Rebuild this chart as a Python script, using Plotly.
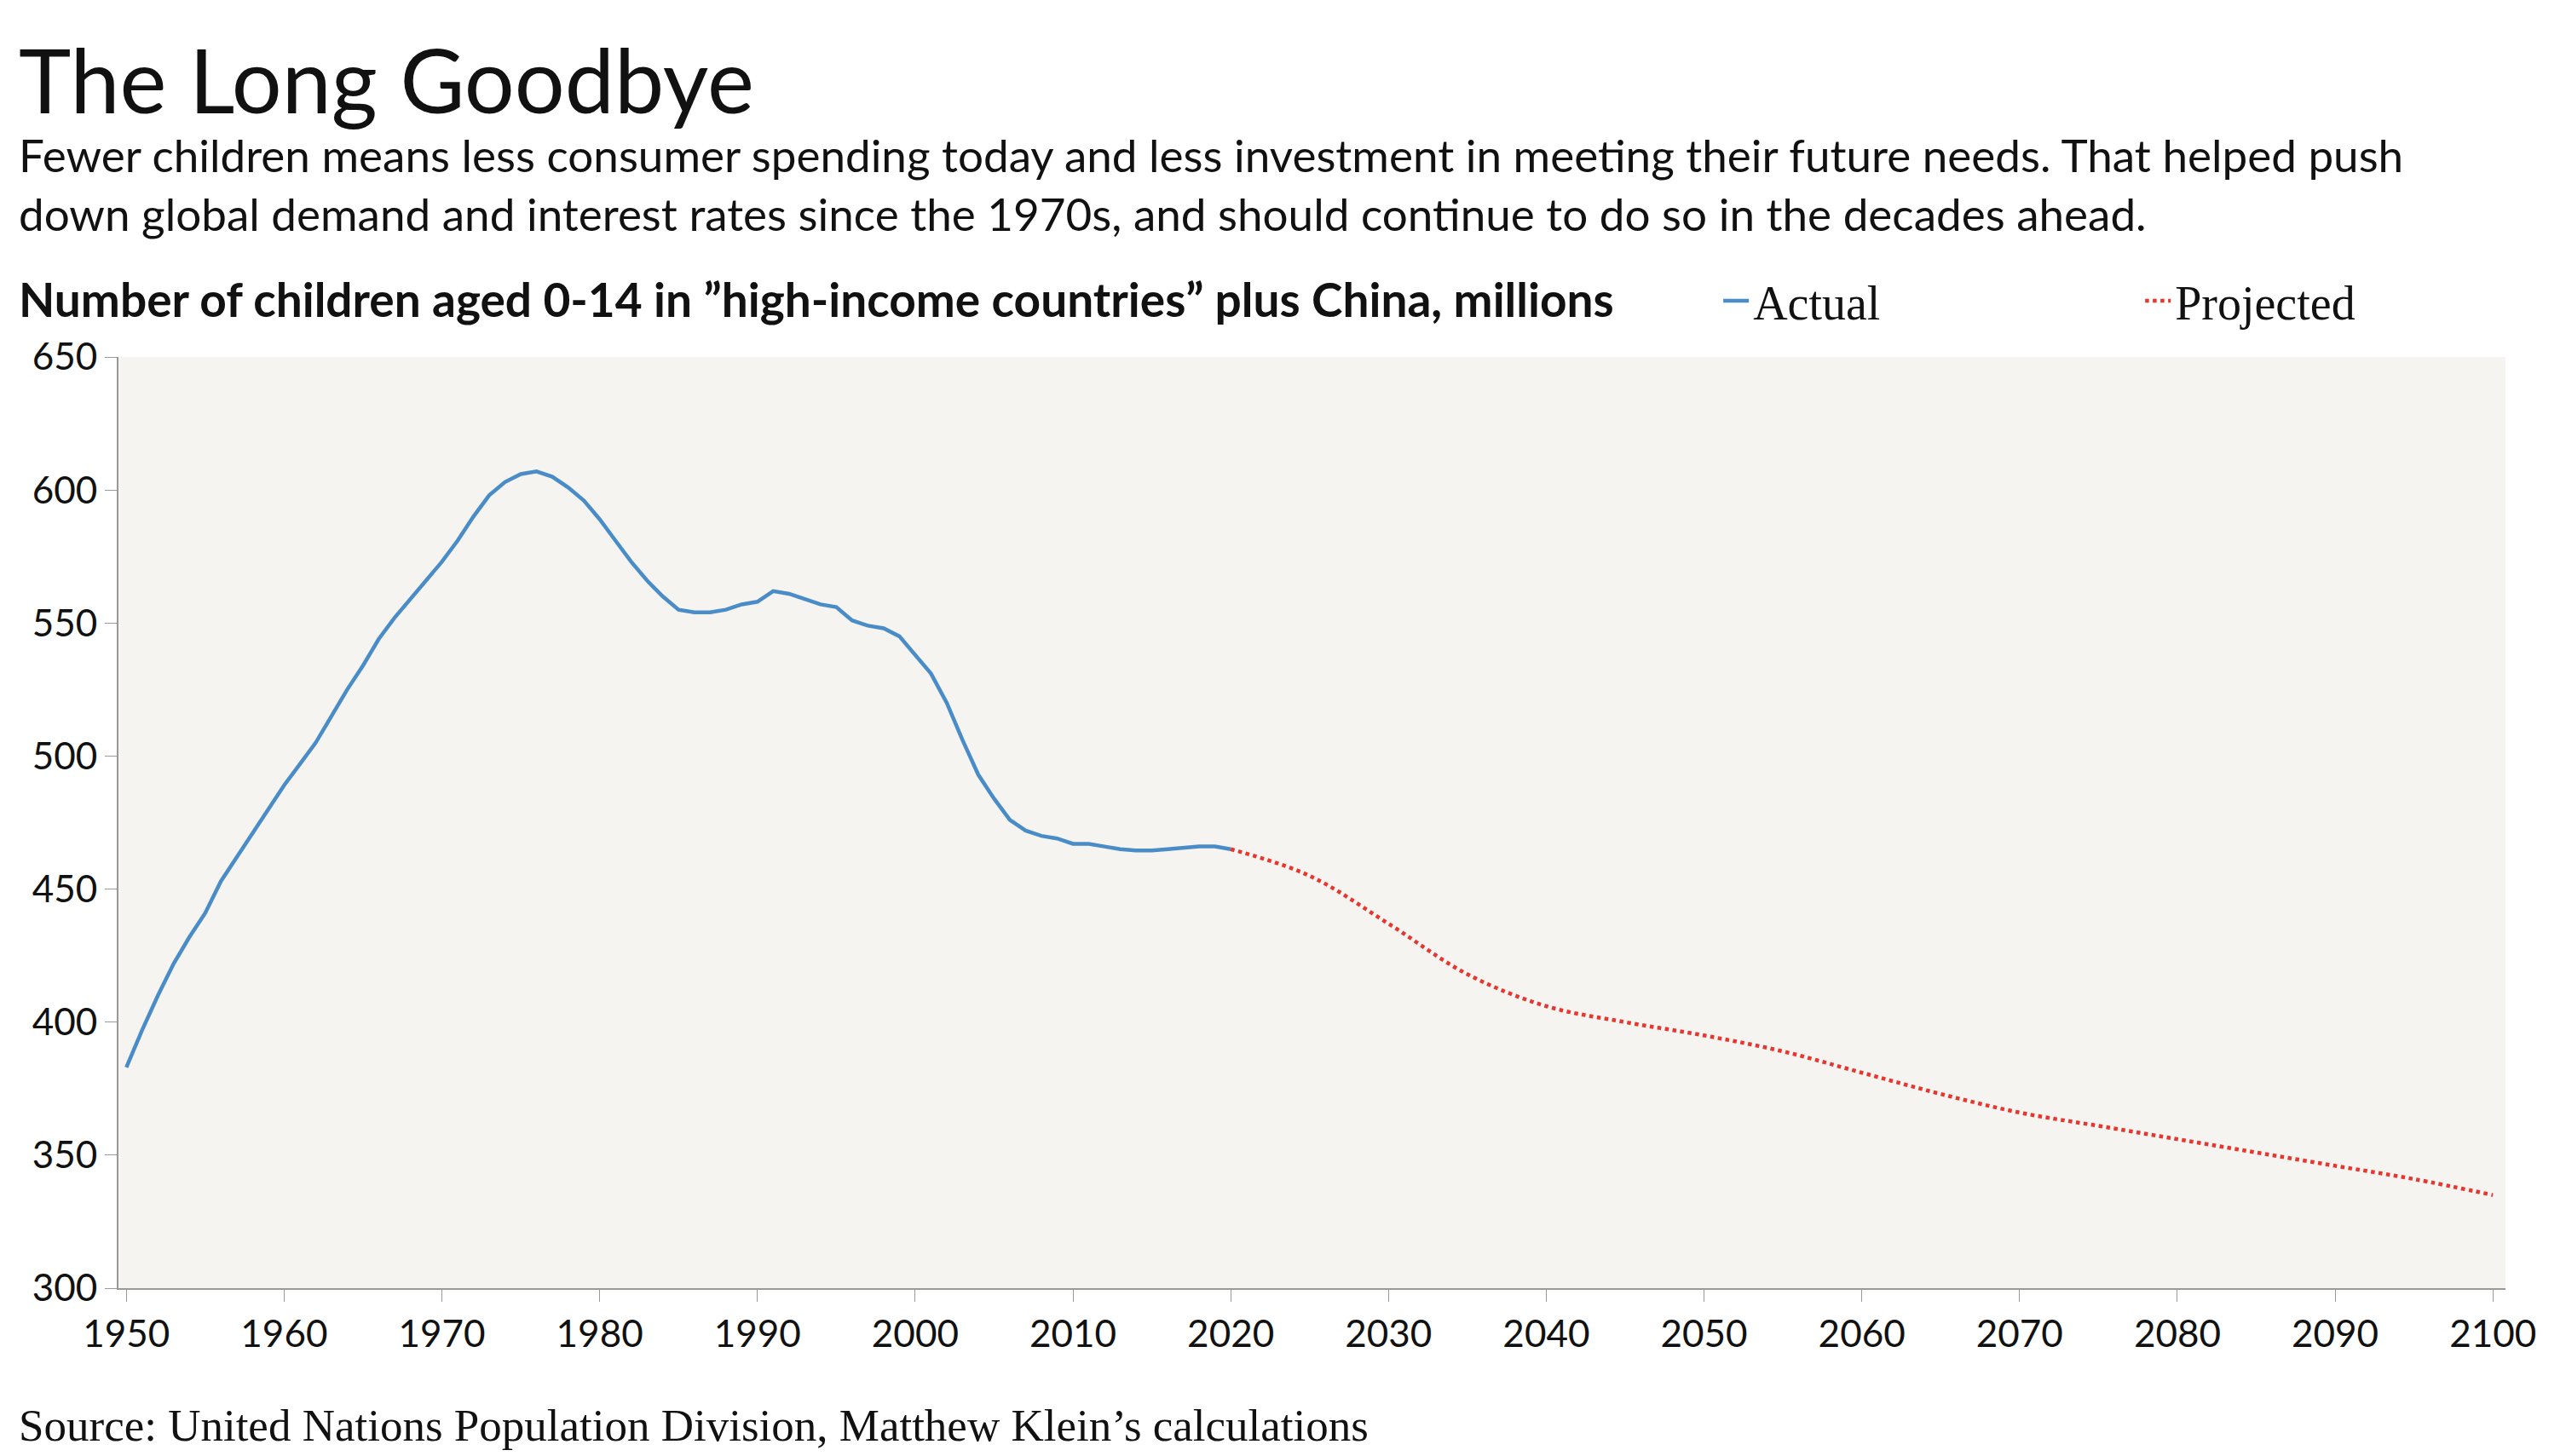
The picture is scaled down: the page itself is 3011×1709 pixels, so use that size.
import plotly.graph_objects as go

# ── Data ────────────────────────────────────────────
actual_years = list(range(1950, 2021))
actual_vals = [383, 397, 410, 422, 432, 441, 453, 462, 471, 480,
               489, 497, 505, 515, 525, 534, 544, 552, 559, 566,
               573, 581, 590, 598, 603, 606, 607, 605, 601, 596,
               589, 581, 573, 566, 560, 555, 554, 554, 555, 557,
               558, 562, 561, 559, 557, 556, 551, 549, 548, 545,
               538, 531, 520, 506, 493, 484, 476, 472, 470, 469,
               467, 467, 466, 465, 464.5, 464.5, 465, 465.5, 466, 466,
               465]
proj_years = [2020, 2025, 2030, 2035, 2040, 2045, 2050, 2055, 2060,
              2065, 2070, 2075, 2080, 2085, 2090, 2095, 2100]
proj_vals = [465, 455, 437, 418, 406, 400, 395, 389, 381,
             373, 366, 361, 356, 351, 346, 341, 335]

W, H = 3011, 1709
L, R, T, B = 131, 33, 411, 205
PW, PH = W - L - R, H - T - B


def px(x):
    return (x - L) / PW


def py(y):
    return (H - B - y) / PH


sans = "Lato, 'Open Sans', sans-serif"
serif = "'Liberation Serif', serif"

fig = go.Figure()
fig.add_trace(go.Scatter(x=actual_years, y=actual_vals, mode="lines", name="Actual",
                         line=dict(color="#4a8cc7", width=4.5)))
fig.add_trace(go.Scatter(x=proj_years, y=proj_vals, mode="lines", name="Projected",
                         line=dict(color="#e8352e", width=4.5, dash="dot", shape="spline")))

axis_style = dict(showgrid=False, zeroline=False, showline=True, linecolor="#999", linewidth=2,
                  ticks="outside", ticklen=14, tickcolor="#999", tickfont=dict(size=44))

fig.update_layout(
    width=W, height=H,
    margin=dict(l=L, r=R, t=T, b=B),
    paper_bgcolor="white", plot_bgcolor="#f5f4f0",
    font=dict(family=sans, color="#111", size=44),
    legend=dict(orientation="h", x=px(2040), y=py(345), xanchor="left", yanchor="middle",
                font=dict(family=serif, size=56), entrywidth=450, entrywidthmode="pixels",
                bgcolor="rgba(0,0,0,0)"),
    xaxis=dict(range=[1949.5, 2100.8], tickmode="array", tickvals=list(range(1950, 2101, 10)),
               **axis_style),
    yaxis=dict(range=[300, 650], tickvals=list(range(300, 651, 50)), **axis_style),
)

fig.add_annotation(text="The Long Goodbye", xref="paper", yref="paper", x=px(10), y=py(20),
                   xanchor="left", yanchor="top", showarrow=False, font=dict(size=104, family=sans))
fig.add_annotation(
    text="Fewer children means less consumer spending today and less investment in meeting their future needs. That helped push<br>"
         "down global demand and interest rates since the 1970s, and should continue to do so in the decades ahead.",
    xref="paper", yref="paper", x=px(10), y=py(140), xanchor="left", yanchor="top", align="left",
    showarrow=False, font=dict(size=53, family=sans))
fig.add_annotation(text="<b>Number of children aged 0-14 in \u201dhigh-income countries\u201d plus China, millions</b>",
                   xref="paper", yref="paper", x=px(10), y=py(343), xanchor="left", yanchor="middle",
                   showarrow=False, font=dict(size=55, family=sans))
fig.add_annotation(text="Source: United Nations Population Division, Matthew Klein\u2019s calculations",
                   xref="paper", yref="paper", x=px(10), y=py(1665), xanchor="left", yanchor="middle",
                   showarrow=False, font=dict(size=53, family=serif))

fig.write_html("out.html")
